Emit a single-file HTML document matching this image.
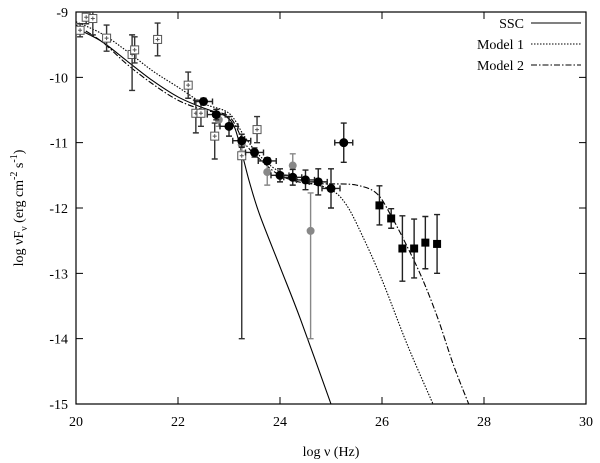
<!DOCTYPE html>
<html><head><meta charset="utf-8"><style>body{margin:0;background:#fff}svg{display:block}text{font-family:"Liberation Serif",serif;font-size:14px}</style></head>
<body>
<svg id="chart" width="600" height="463"></svg>
<script>
const xTicks=[20,22,24,26,28,30];
const yTicks=[-9,-10,-11,-12,-13,-14,-15];
const sscX=[20,20.5,21,21.5,22,22.5,22.9,23.1,23.25,23.4,23.6,24,24.4,25];
const sscY=[-9.25,-9.45,-9.75,-10.05,-10.3,-10.47,-10.58,-10.75,-11.15,-11.6,-12.1,-12.9,-13.7,-15];
const m1X=[20,20.5,21,21.5,22,22.5,23,23.3,23.6,24,24.5,25,25.3,25.6,26,26.5,27];
const m1Y=[-9.15,-9.33,-9.6,-9.9,-10.15,-10.4,-10.55,-10.9,-11.2,-11.45,-11.6,-11.72,-11.95,-12.4,-13.1,-14.1,-15];
const m2X=[20,20.5,21,21.5,22,22.5,23,23.3,23.6,24,24.5,25,25.5,25.9,26.2,26.5,26.8,27.1,27.4,27.7];
const m2Y=[-9.2,-9.45,-9.8,-10.1,-10.35,-10.5,-10.6,-11.0,-11.25,-11.5,-11.62,-11.63,-11.65,-11.78,-12.15,-12.6,-13.1,-13.7,-14.4,-15];
const osX=[20.08,20.2,20.33,20.6,21.1,21.15,21.6,22.2,22.35,22.45,22.72,23.25,23.55];
const osY=[-9.28,-9.08,-9.1,-9.4,-9.65,-9.58,-9.42,-10.12,-10.55,-10.55,-10.9,-11.2,-10.8];
const osEu=[0.1,0.1,0.25,0.2,0.3,0.2,0.25,0.2,0.2,0.2,0.2,0.25,0.2];
const osEd=[0.1,0.1,0.25,0.2,0.55,0.2,0.25,0.2,0.3,0.2,0.35,2.8,0.2];
const bcX=[22.5,22.75,23.0,23.25,23.5,23.75,24.0,24.25,24.5,24.75,25.0,25.25];
const bcY=[-10.37,-10.57,-10.75,-10.97,-11.15,-11.28,-11.5,-11.53,-11.57,-11.6,-11.7,-11.0];
const bcE=[0.05,0.08,0.15,0.1,0.07,0.05,0.1,0.12,0.15,0.2,0.3,0.3];
const gcX=[22.8,23.25,23.75,24.25,24.6];
const gcY=[-10.65,-11.03,-11.45,-11.35,-12.35];
const gcEu=[0.1,0.1,0.2,0.18,0.58];
const gcEd=[0.1,0.1,0.2,0.18,1.65];
const fsX=[25.95,26.18,26.4,26.63,26.85,27.08];
const fsY=[-11.96,-12.16,-12.62,-12.62,-12.53,-12.55];
const fsE=[0.3,0.15,0.5,0.45,0.4,0.45];

const L=76,R=586,T=12,B=404;
const sx=v=>L+(v-20)/10*(R-L);
const sy=v=>T+(-9-v)/6*(B-T);
const svg=document.getElementById('chart');
const NS='http://www.w3.org/2000/svg';
function mk(tag,at,parent){const e=document.createElementNS(NS,tag);for(const k in at)e.setAttribute(k,at[k]);(parent||svg).appendChild(e);return e;}

const frame=mk('rect',{x:L,y:T,width:R-L,height:B-T,fill:'none',stroke:'#000','stroke-width':1.2});


xTicks.forEach(v=>{
  const x=sx(v);
  const tk=mk('path',{d:`M${x},${B}v-7M${x},${T}v7`,stroke:'#000'});
  
  
  const t=mk('text',{x:x,y:B+22,'text-anchor':'middle'});t.textContent=v;
  
  
});
yTicks.forEach(v=>{
  const y=sy(v);
  const tk=mk('path',{d:`M${L},${y}h7M${R},${y}h-7`,stroke:'#000'});
  
  
  const t=mk('text',{x:L-8,y:y+5,'text-anchor':'end'});t.textContent=v;
  
  
});
const xl=mk('text',{x:331,y:456,'text-anchor':'middle'});xl.textContent='log ν (Hz)';


const yl=mk('text',{x:0,y:0,'text-anchor':'middle',transform:'translate(23,208) rotate(-90)'});
yl.innerHTML='log νF<tspan font-size="10" dy="4">ν</tspan><tspan dy="-4"> (erg cm</tspan><tspan font-size="10" dy="-6">-2</tspan><tspan dy="6"> s</tspan><tspan font-size="10" dy="-6">-1</tspan><tspan dy="6">)</tspan>';



const g=mk('g',{'clip-path':'url(#c)'});
const cp=mk('clipPath',{id:'c'});mk('rect',{x:L,y:T,width:R-L,height:B-T},cp);
function smooth(pts){
  let d=`M${pts[0][0]},${pts[0][1]}`;
  for(let i=0;i<pts.length-1;i++){
    const p0=pts[Math.max(i-1,0)],p1=pts[i],p2=pts[i+1],p3=pts[Math.min(i+2,pts.length-1)];
    const c1=[p1[0]+(p2[0]-p0[0])/6,p1[1]+(p2[1]-p0[1])/6];
    const c2=[p2[0]-(p3[0]-p1[0])/6,p2[1]-(p3[1]-p1[1])/6];
    d+=`C${c1[0]},${c1[1]} ${c2[0]},${c2[1]} ${p2[0]},${p2[1]}`;
  }
  return d;
}
function line(xs,ys,dash,name){
  const p=mk('path',{d:smooth(xs.map((x,i)=>[sx(x),sy(ys[i])])),fill:'none',stroke:'#000','stroke-width':1.1,'stroke-dasharray':dash},g);
  
  
}
line(sscX,sscY,'none','ssc-curve');
line(m1X,m1Y,'1.5,1.5','model1-curve');
line(m2X,m2Y,'6,2,1.5,2','model2-curve');

function ebar(x,y,eu,ed,col,h){
  const px=sx(x),py=sy(y),y1=sy(y+eu),y2=sy(Math.max(y-ed,-15));
  let d=`M${px},${y1}V${y2}M${px-3},${y1}h6M${px-3},${y2}h6`;
  if(h)d+=`M${px-9},${py}h18M${px-9},${py-3}v6M${px+9},${py-3}v6`;
  const p=mk('path',{d:d,stroke:col,'stroke-width':1.4,fill:'none'},g);
  
  
}
osX.forEach((x,i)=>{
  ebar(x,osY[i],osEu[i],osEd[i],'#333',false);
  const r=mk('rect',{x:sx(x)-4,y:sy(osY[i])-4,width:8,height:8,fill:'#fff',stroke:'#555','stroke-width':1},g);
  
  
  const c=mk('path',{d:`M${sx(x)-2},${sy(osY[i])}h4M${sx(x)},${sy(osY[i])-2}v4`,stroke:'#555'},g);
  
  
});
gcX.forEach((x,i)=>{
  ebar(x,gcY[i],gcEu[i],gcEd[i],'#888',false);
  const c=mk('circle',{cx:sx(x),cy:sy(gcY[i]),r:4,fill:'#888'},g);
  
  
});
bcX.forEach((x,i)=>{
  ebar(x,bcY[i],bcE[i],bcE[i],'#222',true);
  const c=mk('circle',{cx:sx(x),cy:sy(bcY[i]),r:4.5,fill:'#000'},g);
  
  
});
fsX.forEach((x,i)=>{
  ebar(x,fsY[i],fsE[i],fsE[i],'#222',false);
  const r=mk('rect',{x:sx(x)-4,y:sy(fsY[i])-4,width:8,height:8,fill:'#000'},g);
  
  
});

const legNames=['SSC','Model 1','Model 2'];
const legDash=['none','1.5,1.5','6,2,1.5,2'];
legNames.forEach((n,i)=>{
  const y=23+i*21;
  const t=mk('text',{x:524,y:y+5,'text-anchor':'end'});t.textContent=n;
  
  
  const l=mk('path',{d:`M531,${y}h50`,stroke:'#000','stroke-width':1.1,'stroke-dasharray':legDash[i]});
  
  
});
</script>
</body></html>
